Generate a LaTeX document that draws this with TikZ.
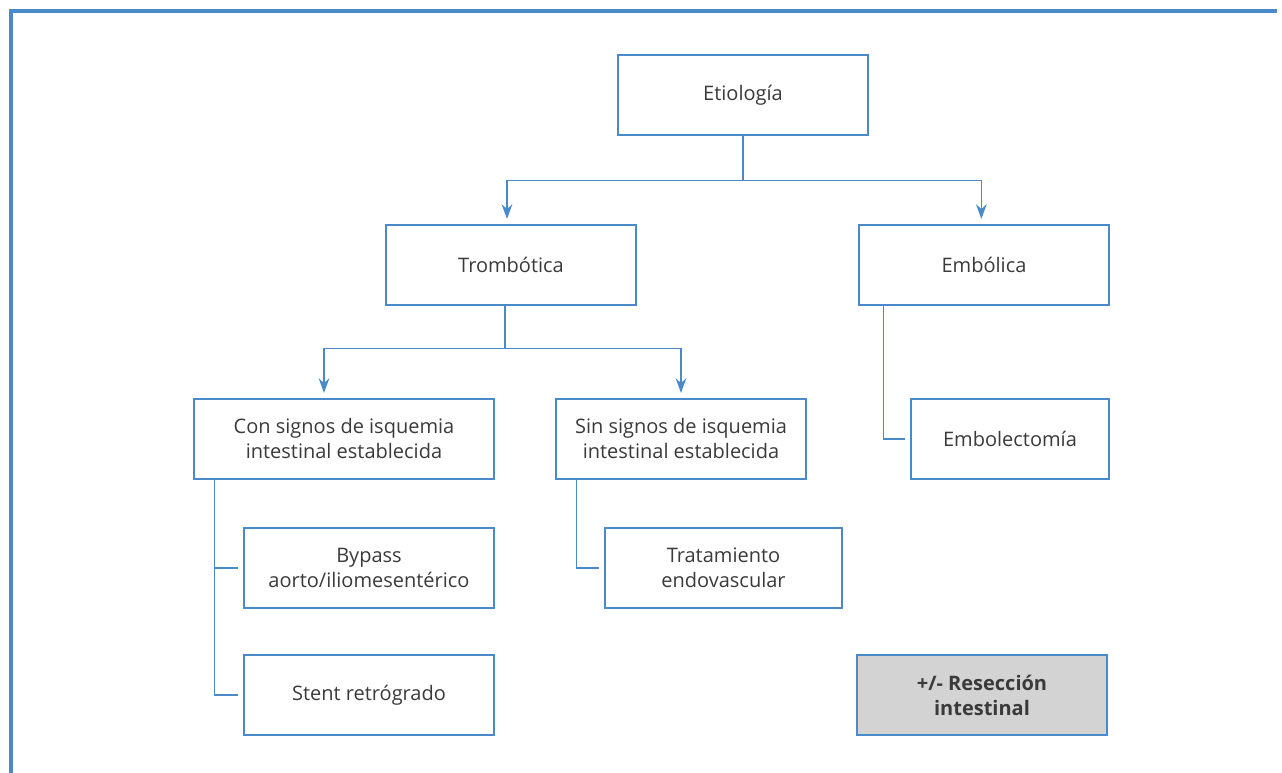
\documentclass[tikz,border=0pt]{standalone}
\usepackage{fontspec}
\setmainfont{Open Sans}
\usepackage{tikz}
\usetikzlibrary{arrows.meta, positioning}

\definecolor{azul}{HTML}{4A8ACB}
\definecolor{texto}{HTML}{3A3A3A}
\definecolor{gris}{HTML}{D3D3D3}

\tikzset{
	caja/.style={draw=azul, line width=1.1pt, minimum height=60pt, inner sep=0pt, align=center,
		text=texto, font=\fontsize{15}{18.75}\selectfont},
	linea/.style={draw=azul, line width=1.1pt},
	marco/.style={draw=azul, line width=2.3pt}
}

\begin{document}
\begin{tikzpicture}[x=0.75pt, y=-0.75pt, > = {Stealth[length=11pt, width=8pt]}, shorten > = 4pt]

\useasboundingbox (0,0) rectangle (1282,773);
\draw[marco] (11,773) -- (11,11) -- (1282,11);

\node[caja, minimum width=187.5pt]			(etio)		at (743,95)		{Etiología};
\node[caja, minimum width=187.5pt]			(trombo)	at (511,265)	{Trombótica};
\node[caja, minimum width=187.5pt]			(embo)		at (984,265)	{Embólica};
\node[caja, minimum width=225pt]			(con)		at (344,439)	{Con signos de isquemia\\intestinal establecida};
\node[caja, minimum width=187.5pt]			(sin)		at (681,439)	{Sin signos de isquemia\\intestinal establecida};
\node[caja, minimum width=148.5pt]			(embolec)	at (1010,439)	{Embolectomía};
\node[caja, minimum width=187.5pt]			(bypass)	at (369,568)	{Bypass\\aorto/iliomesentérico};
\node[caja, minimum width=177.75pt]			(endo)		at (723.5,568)	{Tratamiento\\endovascular};
\node[caja, minimum width=187.5pt]			(stent)		at (369,695)	{Stent retrógrado};
\node[caja, minimum width=187.5pt, fill=gris, font=\fontsize{15}{18.75}\selectfont\bfseries]
											(reseccion)	at (982,695)	{+/- Resección\\intestinal};

% etiologia
\draw[linea, ->]	(etio.south) -- ++(0,45) -| ([xshift=-3pt]trombo.north);
\draw[linea, ->]	(etio.south) -- ++(0,45) -| ([xshift=-2pt]embo.north);

% trombotica
\draw[linea, ->]	([xshift=-4.5pt]trombo.south) -- ++(0,43) -| ([xshift=-15pt]con.north);
\draw[linea, ->]	([xshift=-4.5pt]trombo.south) -- ++(0,43) -| (sin);

% tratamientos
\draw[linea]	([xshift=16pt]con.south west) |- (stent);
\draw[linea]	([xshift=16pt]con.south west) |- (bypass);
\draw[linea]	([xshift=16pt]sin.south west) |- (endo);
\draw[linea]	([xshift=19pt]embo.south west) |- (embolec);

\end{tikzpicture}
\end{document}
